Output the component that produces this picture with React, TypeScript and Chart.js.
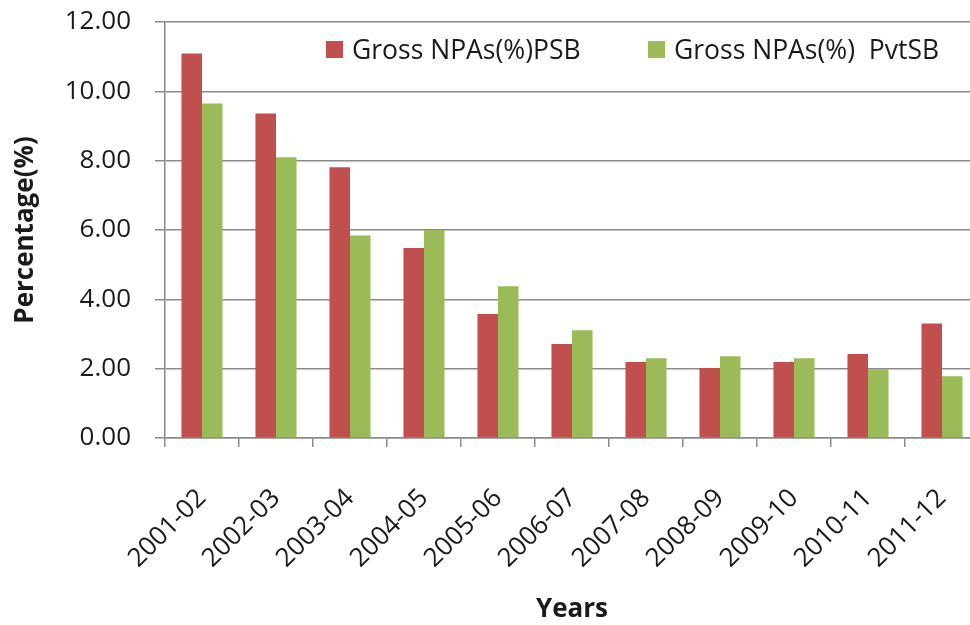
import React, { useEffect, useRef } from "react";
import { Chart, registerables } from "chart.js";

Chart.register(...registerables);

const categories = [
  "2001-02", "2002-03", "2003-04", "2004-05", "2005-06", "2006-07",
  "2007-08", "2008-09", "2009-10", "2010-11", "2011-12",
];
const psbValues = [11.09, 9.36, 7.81, 5.48, 3.58, 2.71, 2.19, 2.02, 2.19, 2.42, 3.3];
const pvtValues = [9.65, 8.1, 5.84, 6.0, 4.38, 3.11, 2.3, 2.36, 2.3, 1.98, 1.78];
const seriesLabels = ["Gross NPAs(%)PSB", "Gross NPAs(%)  PvtSB"];
const seriesColors = ["#C0504D", "#9BBB59"];
const yTicks = [0, 2, 4, 6, 8, 10, 12];

const FONT = "'Open Sans', sans-serif";
const TEXT = "#1a1a1a";
const AXIS = "#8a8a8a";
const W = 992;
const H = 625;

const legendPlugin = {
  id: "customLegend",
  afterDraw(chart: any) {
    const ctx = chart.ctx;
    ctx.save();
    ctx.font = `26.5px ${FONT}`;
    ctx.textBaseline = "alphabetic";
    const items = [
      { x: 326, label: seriesLabels[0], color: seriesColors[0] },
      { x: 648, label: seriesLabels[1], color: seriesColors[1] },
    ];
    items.forEach((it) => {
      ctx.fillStyle = it.color;
      ctx.fillRect(it.x, 41, 17, 17);
      ctx.fillStyle = TEXT;
      ctx.fillText(it.label, it.x + 26, 59);
    });
    ctx.restore();
  },
};

export default function App() {
  const ref = useRef<HTMLCanvasElement | null>(null);
  useEffect(() => {
    if (!ref.current) return;
    const chart = new Chart(ref.current, {
      type: "bar",
      data: {
        labels: categories,
        datasets: [
          {
            label: seriesLabels[0],
            data: psbValues,
            backgroundColor: seriesColors[0],
            barPercentage: 1,
            categoryPercentage: 0.555,
          },
          {
            label: seriesLabels[1],
            data: pvtValues,
            backgroundColor: seriesColors[1],
            barPercentage: 1,
            categoryPercentage: 0.555,
          },
        ],
      },
      options: {
        animation: false,
        responsive: false,
        maintainAspectRatio: false,
        devicePixelRatio: 1,
        layout: { padding: { top: 22, right: 13, left: 0, bottom: 0 } },
        plugins: {
          legend: { display: false },
          tooltip: { enabled: false },
        },
        scales: {
          x: {
            offset: true,
            grid: {
              offset: true,
              drawOnChartArea: false,
              drawTicks: true,
              tickLength: 9,
              color: AXIS,
              lineWidth: 1.5,
            },
            border: { color: AXIS, width: 1.5 },
            ticks: {
              maxRotation: 45,
              minRotation: 45,
              padding: 36,
              color: TEXT,
              font: { family: FONT, size: 26 },
            },
            title: {
              display: true,
              text: "Years",
              color: TEXT,
              font: { family: FONT, size: 26, weight: "bold" },
              padding: { top: 0, bottom: 0 },
            },
            afterFit(scale: any) {
              scale.height = 187;
              scale.paddingLeft = 0;
              scale.paddingRight = 0;
            },
          },
          y: {
            min: 0,
            max: 12,
            afterBuildTicks(scale: any) {
              scale.ticks = yTicks.map((v) => ({ value: v }));
            },
            grid: {
              color: AXIS,
              lineWidth: 1.5,
              drawTicks: true,
              tickLength: 10,
            },
            border: { color: AXIS, width: 1.5 },
            ticks: {
              padding: 24,
              color: TEXT,
              font: { family: FONT, size: 26 },
              callback: (v: any) => Number(v).toFixed(2),
            },
            title: {
              display: true,
              text: "Percentage(%)",
              color: TEXT,
              font: { family: FONT, size: 26, weight: "bold" },
              padding: { top: 10, bottom: 0 },
            },
            afterFit(scale: any) {
              scale.width = 165;
              scale.paddingTop = 0;
              scale.paddingBottom = 0;
            },
          },
        },
      },
      plugins: [legendPlugin],
    });
    return () => chart.destroy();
  }, []);

  return (
    <div
      style={{
        position: "fixed",
        left: 0,
        top: 0,
        width: 970,
        height: 625,
        overflow: "hidden",
        background: "#fff",
      }}
    >
      <canvas ref={ref} width={W} height={H} style={{ width: W, height: H, display: "block" }} />
    </div>
  );
}
